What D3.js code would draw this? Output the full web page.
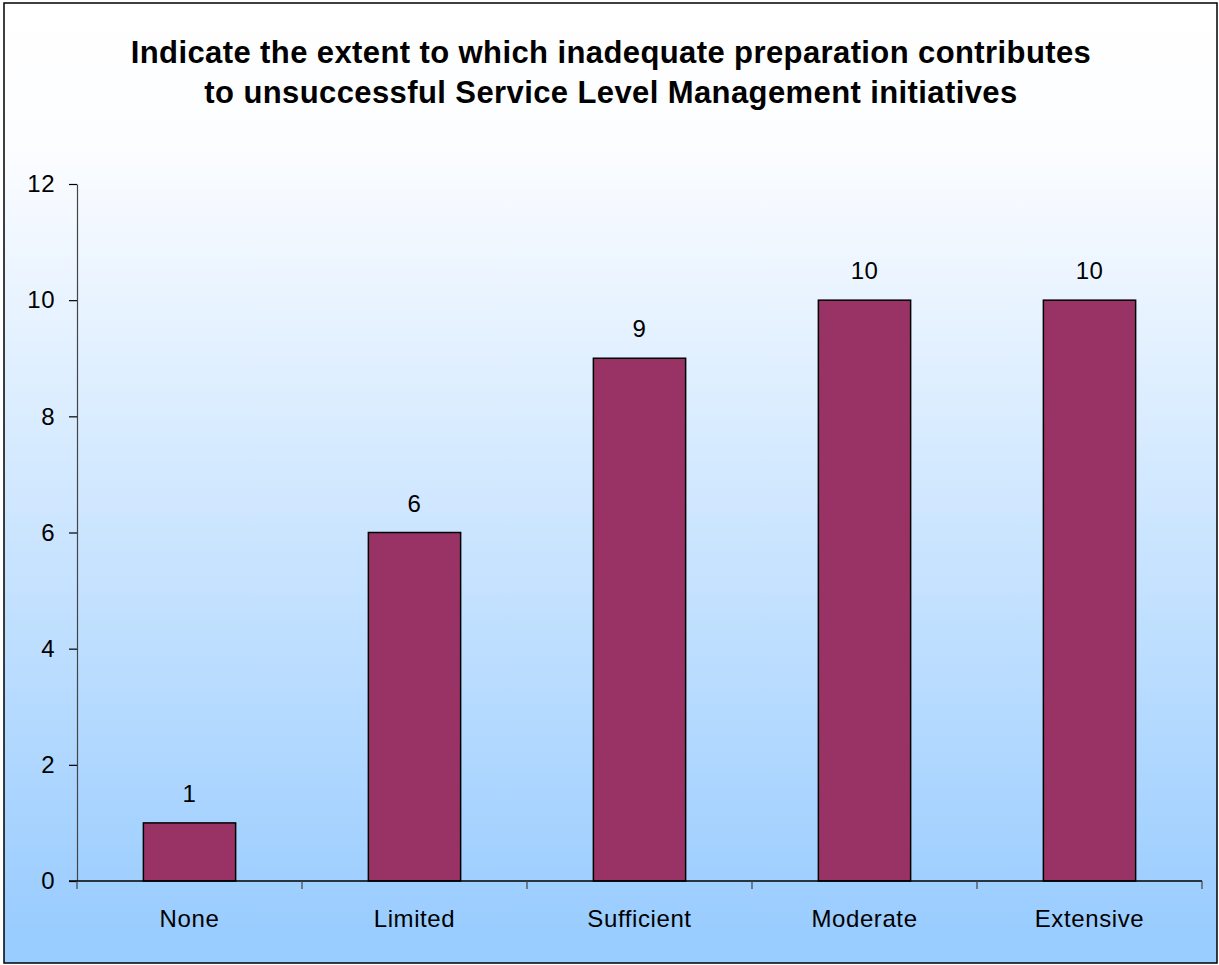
<!DOCTYPE html>
<html>
<head>
<meta charset="utf-8">
<script src="https://cdn.jsdelivr.net/npm/d3@7"></script>
<style>
  html, body { margin: 0; padding: 0; background: #fff; }
  svg { display: block; }
  text { font-family: "Liberation Sans", Arial, sans-serif; fill: #000; }
</style>
</head>
<body>
<svg id="chart" width="1219" height="965"></svg>
<script>
// Survey responses per rating
const categories = ["None", "Limited", "Sufficient", "Moderate", "Extensive"];
const counts = [1, 6, 9, 10, 10];
const yTicks = [0, 2, 4, 6, 8, 10, 12];
const titleLines = [
  "Indicate the extent to which inadequate preparation contributes",
  "to unsuccessful Service Level Management initiatives"
];

const svg = d3.select("#chart");
const W = 1219, H = 965;

// Background gradient: near white at top fading into light blue
const defs = svg.append("defs");
const grad = defs.append("linearGradient")
  .attr("id", "bg").attr("gradientUnits", "userSpaceOnUse")
  .attr("x1", 0).attr("y1", 0).attr("x2", 0).attr("y2", H);
grad.append("stop").attr("offset", "0%").attr("stop-color", "#ffffff");
grad.append("stop").attr("offset", "15%").attr("stop-color", "#fcfdff");
grad.append("stop").attr("offset", "97%").attr("stop-color", "#99ccff");
grad.append("stop").attr("offset", "100%").attr("stop-color", "#99ccff");

svg.append("rect")
  .attr("x", 4).attr("y", 3).attr("width", W - 6).attr("height", H - 5)
  .attr("fill", "url(#bg)").attr("stroke", "#000").attr("stroke-width", 1.5);

// Title
svg.append("text")
  .attr("text-anchor", "middle")
  .attr("font-weight", "bold")
  .attr("font-size", 31)
  .attr("letter-spacing", 0.4)
  .selectAll("tspan").data(titleLines).join("tspan")
  .attr("x", 611).attr("y", (d, i) => 63 + i * 40)
  .text(d => d);

const margin = { left: 77, right: 1202, top: 184, bottom: 881 };

const x = d3.scaleBand()
  .domain(categories)
  .range([margin.left, margin.right])
  .paddingInner(0.59).paddingOuter(0.295);

const y = d3.scaleLinear().domain([0, 12]).range([margin.bottom, margin.top]);

// Bars
svg.append("g").selectAll("rect").data(categories).join("rect")
  .attr("x", d => x(d))
  .attr("y", (d, i) => y(counts[i]))
  .attr("width", x.bandwidth())
  .attr("height", (d, i) => y(0) - y(counts[i]))
  .attr("fill", "#993366")
  .attr("stroke", "#000")
  .attr("stroke-width", 1.5);

// Value labels
svg.append("g").selectAll("text").data(categories).join("text")
  .attr("x", d => x(d) + x.bandwidth() / 2)
  .attr("y", (d, i) => y(counts[i]) - 21)
  .attr("text-anchor", "middle")
  .attr("font-size", 24)
  .attr("letter-spacing", 0.5)
  .text((d, i) => counts[i]);

// Y axis
const yAxis = svg.append("g")
  .attr("transform", `translate(${margin.left},0)`)
  .call(d3.axisLeft(y).tickValues(yTicks).tickSize(8).tickPadding(14).tickSizeOuter(0));
yAxis.select(".domain").attr("stroke", "#444").attr("stroke-width", 1.2);
yAxis.selectAll(".tick line").attr("stroke", "#000").attr("stroke-width", 1.2);
yAxis.selectAll(".tick text").attr("font-size", 24)
  .attr("letter-spacing", 0.5)
  .attr("font-family", "Liberation Sans, Arial, sans-serif").attr("fill", "#000");

// X axis: baseline with tick marks at category boundaries
const xg = svg.append("g");
xg.append("line")
  .attr("x1", margin.left - 8).attr("x2", margin.right)
  .attr("y1", y(0)).attr("y2", y(0))
  .attr("stroke", "#000").attr("stroke-width", 1.5);
const bounds = categories.map((c, i) => margin.left + i * x.step());
bounds.push(margin.right);
xg.selectAll("line.tk").data(bounds).join("line")
  .attr("class", "tk")
  .attr("x1", d => d).attr("x2", d => d)
  .attr("y1", y(0)).attr("y2", y(0) + 8)
  .attr("stroke", "#444").attr("stroke-width", 1.2);
xg.selectAll("text").data(categories).join("text")
  .attr("x", d => x(d) + x.bandwidth() / 2)
  .attr("y", y(0) + 46)
  .attr("text-anchor", "middle")
  .attr("font-size", 24)
  .attr("letter-spacing", 0.6)
  .text(d => d);
</script>
</body>
</html>
